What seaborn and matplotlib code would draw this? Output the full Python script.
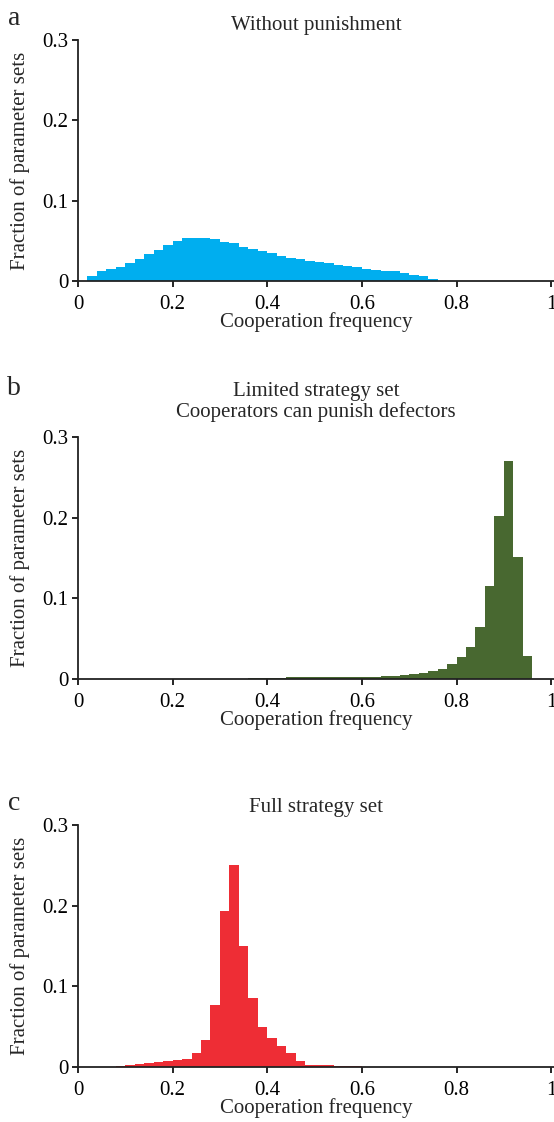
import numpy as np
import pandas as pd
import seaborn as sns
import matplotlib.pyplot as plt

# histogram bins: 50 bins of width 0.02 on [0, 1]
bin_edges = np.linspace(0, 1, 51)
bin_centers = (bin_edges[:-1] + bin_edges[1:]) / 2

# fraction of parameter sets per bin
frac_no_punish = [
    0, 0.006, 0.012, 0.0145, 0.018, 0.022, 0.028, 0.034, 0.039, 0.045,
    0.050, 0.053, 0.054, 0.054, 0.052, 0.049, 0.047, 0.042, 0.040, 0.037,
    0.035, 0.031, 0.029, 0.028, 0.025, 0.024, 0.022, 0.020, 0.019, 0.017,
    0.015, 0.014, 0.013, 0.012, 0.010, 0.008, 0.006, 0.003, 0, 0,
    0, 0, 0, 0, 0, 0, 0, 0, 0, 0,
]
frac_limited = [
    0, 0, 0, 0, 0, 0, 0, 0, 0, 0,
    0, 0, 0, 0, 0, 0, 0, 0, 0.0015, 0.0016,
    0.0017, 0.0018, 0.0019, 0.002, 0.0021, 0.0022, 0.0023, 0.0024, 0.0025, 0.0026,
    0.0028, 0.003, 0.0035, 0.0042, 0.005, 0.006, 0.0078, 0.010, 0.0128, 0.018,
    0.027, 0.040, 0.065, 0.115, 0.202, 0.270, 0.151, 0.028, 0, 0,
]
frac_full = [
    0, 0, 0, 0, 0.001, 0.002, 0.0033, 0.0045, 0.0058, 0.007,
    0.0083, 0.0103, 0.0174, 0.034, 0.077, 0.193, 0.250, 0.150, 0.0855, 0.050,
    0.036, 0.0256, 0.0174, 0.007, 0.003, 0.0025, 0.002, 0.0015, 0.001, 0.0008,
    0.0006, 0, 0, 0, 0, 0, 0, 0, 0, 0,
    0, 0, 0, 0, 0, 0, 0, 0, 0, 0,
]

panel_letters = ["a", "b", "c"]
panel_titles = [
    ["Without punishment"],
    ["Limited strategy set", "Cooperators can punish defectors"],
    ["Full strategy set"],
]
panel_colors = ["#00AEEF", "#486830", "#EE2D35"]
x_ticks = [0, 0.2, 0.4, 0.6, 0.8, 1.0]
x_ticklabels = ["0", "0.2", "0.4", "0.6", "0.8", "1"]
y_ticks = [0, 0.1, 0.2, 0.3]
y_ticklabels = ["0", "0.1", "0.2", "0.3"]

sns.set_style("ticks")
plt.rcParams['font.family'] = ['Liberation Serif', 'DejaVu Serif']

W, H = 554, 1122
fig = plt.figure(figsize=(W / 100, H / 100), dpi=100)

# (top, bottom) of each axes in pixels, baselines of letters and title lines
axes_px = [(40, 281), (437, 679), (825, 1067)]
letter_base = [25, 395, 810]
title_base = [[30], [396, 417], [812]]

datasets = [frac_no_punish, frac_limited, frac_full]

for i, (top, bot) in enumerate(axes_px):
    left, right = 78, 554
    ax = fig.add_axes([left / W, 1 - bot / H, (right - left) / W, (bot - top) / H])
    df = pd.DataFrame({"coop": bin_centers, "frac": datasets[i]})
    sns.histplot(data=df, x="coop", weights="frac", binwidth=0.02, binrange=(0, 1),
                 color=panel_colors[i], alpha=1, linewidth=0, ax=ax)
    ax.set_xlim(0, 1.006)
    ax.set_ylim(0, 0.3)
    ax.set_xticks(x_ticks)
    ax.set_xticklabels(x_ticklabels)
    ax.set_yticks(y_ticks)
    ax.set_yticklabels(y_ticklabels)
    ax.tick_params(direction="out", length=4, width=1.2, labelsize=15,
                   colors="black")
    ax.tick_params(axis="x", pad=6)
    ax.tick_params(axis="y", pad=3)
    for s in ["top", "right"]:
        ax.spines[s].set_visible(False)
    for s in ["left", "bottom"]:
        ax.spines[s].set_linewidth(1.3)
        ax.spines[s].set_color("#222222")
    ax.set_xlabel("Cooperation frequency", fontsize=15, labelpad=-1)
    ax.set_ylabel("Fraction of parameter sets", fontsize=15)
    ax.yaxis.set_label_coords(-48 / 473, 0.5)

    fig.text(14 / W, 1 - letter_base[i] / H, panel_letters[i], fontsize=20,
             ha="center", va="baseline")
    for line, yb in zip(panel_titles[i], title_base[i]):
        fig.text(316 / W, 1 - yb / H, line, fontsize=15,
                 ha="center", va="baseline")

fig.savefig("out.png", dpi=100)
